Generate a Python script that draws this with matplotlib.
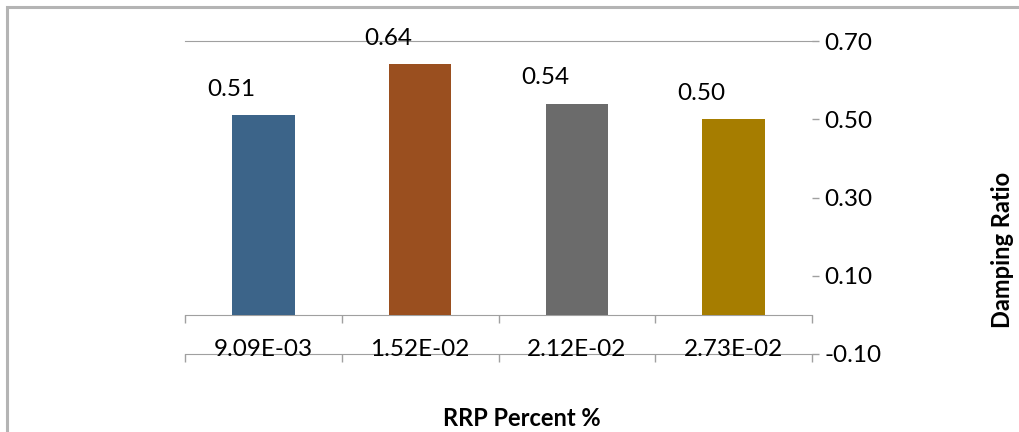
import matplotlib
matplotlib.use("Agg")
import matplotlib.pyplot as plt
from matplotlib.patches import Rectangle
from matplotlib.ticker import FixedLocator, NullFormatter

plt.rcParams['font.family'] = ['Lato', 'DejaVu Sans']

# Data
categories = ["9.09E-03", "1.52E-02", "2.12E-02", "2.73E-02"]
damping = [0.51, 0.64, 0.54, 0.50]
bar_colors = ["#3C6489", "#9A4F1F", "#6B6B6B", "#A67D00"]
y_ticks = [-0.10, 0.10, 0.30, 0.50, 0.70]

line_gray = "#A0A0A0"
tick_fs = 17.5
title_fs = 17

fig = plt.figure(figsize=(10.19, 4.32), dpi=100)
fig.patch.set_facecolor("white")

# chart frame
fig.patches.append(Rectangle((7 / 1019, -0.2), 1.2, 1 - 7 / 432 + 0.2,
                             transform=fig.transFigure, fill=False,
                             edgecolor="#B4B4B4", lw=2.2, zorder=0))

ax = fig.add_axes([185 / 1019, 1 - 354 / 432, 627 / 1019, 313 / 432])
x = list(range(len(categories)))
ax.bar(x, damping, width=0.40, color=bar_colors, zorder=2)

ax.set_xlim(-0.5, len(categories) - 0.5)
ax.set_ylim(y_ticks[0], y_ticks[-1])

# value axis on the right
ax.yaxis.tick_right()
ax.set_yticks(y_ticks)
ax.set_yticklabels([f"{v:.2f}" for v in y_ticks], fontsize=tick_fs)
ax.tick_params(axis="y", length=5, width=1, color=line_gray, pad=4)

for side in ["left", "right"]:
    ax.spines[side].set_visible(False)
ax.spines["top"].set_color(line_gray)
ax.spines["bottom"].set_color(line_gray)

# category boundaries on the bottom line
bounds = [i - 0.5 for i in range(len(categories) + 1)]
ax.xaxis.set_major_locator(FixedLocator(bounds))
ax.xaxis.set_major_formatter(NullFormatter())
ax.tick_params(axis="x", length=6, width=1, color=line_gray, direction="out")

# category axis crossing at zero
zero_frac = (0 - y_ticks[0]) / (y_ticks[-1] - y_ticks[0])
sec = ax.secondary_xaxis(zero_frac)
sec.set_xticks(bounds)
sec.set_xticklabels([])
sec.tick_params(axis="x", length=6, width=1, color=line_gray, direction="out")
sec.spines["bottom"].set_color(line_gray)

# category labels
for xi, lab in zip(x, categories):
    ax.annotate(lab, (xi, y_ticks[0]), xytext=(0, 4), textcoords="offset pixels",
                ha="center", va="center", fontsize=tick_fs, color="black",
                annotation_clip=False)

# value labels
for xi, v in zip(x, damping):
    ax.annotate(f"{v:.2f}", (xi, v), xytext=(-32, 26), textcoords="offset pixels",
                ha="center", va="center", fontsize=tick_fs, color="black",
                annotation_clip=False)

fig.text(522 / 1019, 1 - 419 / 432, "RRP Percent %", ha="center", va="center",
         fontsize=title_fs, fontweight="bold")
fig.text(1002 / 1019, 1 - 250 / 432, "Damping Ratio", ha="center", va="center",
         rotation=90, fontsize=title_fs, fontweight="bold")

fig.savefig("out.png", dpi=100)
